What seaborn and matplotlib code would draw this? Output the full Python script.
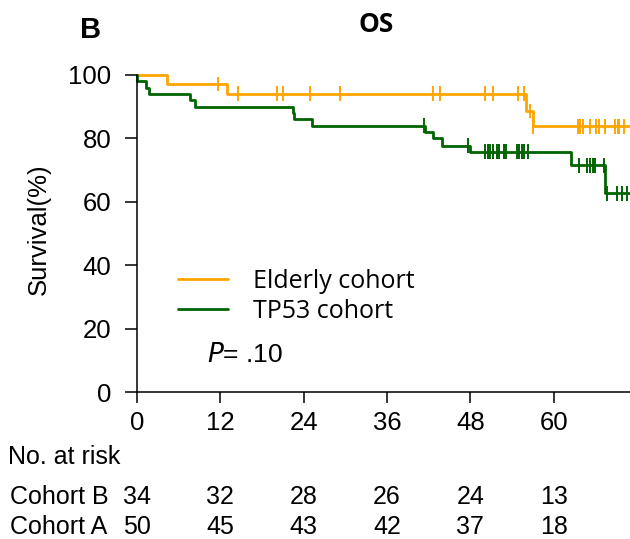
import numpy as np
import pandas as pd
import matplotlib
matplotlib.use("Agg")
import matplotlib.pyplot as plt
import seaborn as sns

# ---------------- data ----------------
cohorts = ["Elderly cohort", "TP53 cohort"]
colors = ["#FFA500", "#006400"]

elderly_time = [0, 4.3, 12.9, 56.0, 57.0, 71.0]
elderly_surv = [100, 97.1, 94.1, 88.7, 83.8, 83.8]
elderly_cens = [11.6, 14.6, 20.2, 21.0, 24.9, 29.2, 42.6, 43.6, 50.1, 51.2,
                54.8, 55.7, 56.6, 57.1, 63.5, 63.8, 64.2, 65.2, 66.1, 66.5,
                67.4, 68.9, 69.2, 69.4, 70.2]

tp53_time = [0, 0.05, 1.3, 1.8, 7.6, 8.4, 22.4, 22.6, 25.2, 41.5, 42.7, 43.9,
             48.0, 62.5, 67.4, 71.0]
tp53_surv = [100, 98, 96, 94, 92, 90, 88, 86, 84, 82, 80, 77.7, 75.8, 71.5,
             62.7, 62.7]
tp53_cens = [41.4, 47.6, 50.1, 50.5, 50.9, 51.3, 51.8, 52.2, 52.8, 53.1, 54.7,
             55.0, 55.4, 55.8, 56.3, 63.7, 64.8, 65.3, 65.6, 65.9, 67.3, 67.7,
             69.1, 69.8, 70.6]

xticks = [0, 12, 24, 36, 48, 60]
yticks = [0, 20, 40, 60, 80, 100]
risk_rows = ["Cohort B", "Cohort A"]
risk_B = [34, 32, 28, 26, 24, 13]
risk_A = [50, 45, 43, 42, 37, 18]

# ---------------- frames ----------------
curve = pd.concat([
    pd.DataFrame({"time": elderly_time, "surv": elderly_surv, "cohort": cohorts[0]}),
    pd.DataFrame({"time": tp53_time, "surv": tp53_surv, "cohort": cohorts[1]}),
], ignore_index=True)

def step_at(t, times, surv):
    idx = np.searchsorted(times, t, side="right") - 1
    return np.asarray(surv)[idx]

cens = pd.concat([
    pd.DataFrame({"time": elderly_cens,
                  "surv": step_at(elderly_cens, elderly_time, elderly_surv),
                  "cohort": cohorts[0]}),
    pd.DataFrame({"time": tp53_cens,
                  "surv": step_at(tp53_cens, tp53_time, tp53_surv),
                  "cohort": cohorts[1]}),
], ignore_index=True)

# ---------------- figure ----------------
sns.set_style("ticks", {"text.color": "black", "xtick.color": "black",
                        "ytick.color": "black", "axes.labelcolor": "black",
                        "axes.edgecolor": "black"})
plt.rcParams["font.family"] = ["Liberation Sans", "DejaVu Sans"]

W, H = 630, 539
fig = plt.figure(figsize=(W / 100, H / 100), dpi=100)
def fx(px): return px / W
def fy(py): return 1 - py / H

ax = fig.add_axes([fx(137), fy(392), fx(630) - fx(137), fy(75) - fy(392)])
palette = dict(zip(cohorts, colors))

sns.lineplot(data=curve, x="time", y="surv", hue="cohort", palette=palette,
             drawstyle="steps-post", estimator=None, sort=False,
             linewidth=2.0, ax=ax, clip_on=False)
sns.scatterplot(data=cens, x="time", y="surv", hue="cohort", palette=palette,
                marker="|", s=110, linewidth=1.4, ax=ax, legend=False,
                clip_on=False, zorder=3)

ax.set_xlim(0, 71.0)
ax.set_ylim(0, 100)
ax.set_xticks(xticks)
ax.set_yticks(yticks)
ax.set_xlabel("")
ax.set_ylabel("")
for s in ["top", "right"]:
    ax.spines[s].set_visible(False)
for s in ["left", "bottom"]:
    ax.spines[s].set_linewidth(1.1)
ax.tick_params(axis="y", length=8.5, width=1.1, pad=10, labelsize=18.5)
ax.tick_params(axis="x", length=8, width=1.1, pad=6, labelsize=18.5)

handles, labels = ax.get_legend_handles_labels()
leg = ax.legend(handles, labels, loc="upper left",
                bbox_to_anchor=(fx(158), fy(249)), bbox_transform=fig.transFigure,
                frameon=False, handlelength=2.0, handletextpad=1.0,
                labelspacing=0.2, borderpad=0.3,
                prop={"family": "Open Sans", "size": 18})
for h in leg.get_lines():
    h.set_linewidth(2.0)

ax.text(fx(207), fy(355), r"$\it{P}$= .10", transform=fig.transFigure,
        fontsize=19, va="center", ha="left")

fig.text(fx(91), fy(30), "B", fontsize=21, fontweight="bold", ha="center", va="center")
fig.text(fx(376), fy(25), "OS", fontsize=19, fontweight="bold", ha="center",
         va="center", family="Open Sans")
fig.text(fx(39), fy(229), "Survival(%)", fontsize=18.5, rotation=90,
         ha="center", va="center")

# risk table
fig.text(fx(8), fy(457), "No. at risk", fontsize=18, ha="left", va="center")
row_y = [497, 527]
for name, vals, yy in zip(risk_rows, [risk_B, risk_A], row_y):
    fig.text(fx(10), fy(yy), name, fontsize=18, ha="left", va="center")
    for t, v in zip(xticks, vals):
        xd, _ = ax.transData.transform((t, 0))
        xf = fig.transFigure.inverted().transform((xd, 0))[0]
        fig.text(xf, fy(yy), str(v), fontsize=18, ha="center", va="center")

fig.savefig("out.png", dpi=100)
